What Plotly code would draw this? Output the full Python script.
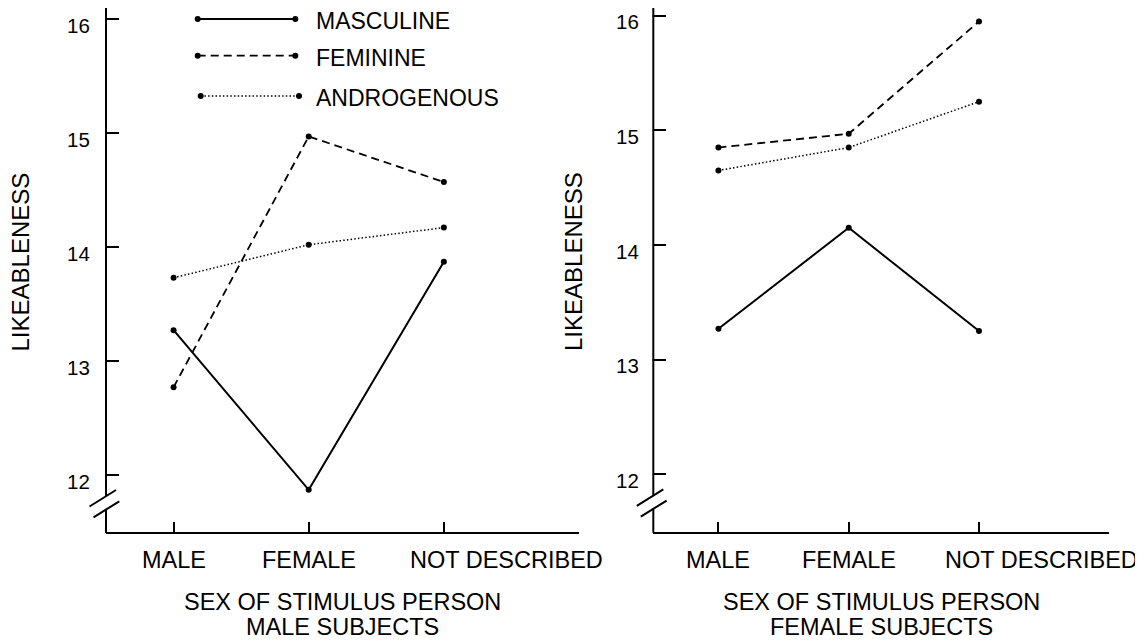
import plotly.graph_objects as go

# ---------------- data ----------------
categories = ["MALE", "FEMALE", "NOT DESCRIBED"]
series_names = ["MASCULINE", "FEMININE", "ANDROGENOUS"]

male_masculine = [13.27, 11.87, 13.87]
male_feminine = [12.77, 14.97, 14.57]
male_androgenous = [13.73, 14.02, 14.17]

female_masculine = [13.27, 14.15, 13.25]
female_feminine = [14.85, 14.97, 15.95]
female_androgenous = [14.65, 14.85, 15.25]

y_ticks = [12, 13, 14, 15, 16]
x_title = "SEX OF STIMULUS PERSON"
panel_subtitles = ["MALE SUBJECTS", "FEMALE SUBJECTS"]
y_title = "LIKEABLENESS"

# ---------------- geometry / style ----------------
PAGE_W, PAGE_H = 1143, 640
OFF = 8  # default body margin of the html page
W, H = PAGE_W - OFF, PAGE_H - OFF
YMIN, YMAX = 11.5, 16.1
FONT = "Liberation Sans, Arial, Helvetica, sans-serif"
BLACK = "#000000"

panels = [
    dict(x0=106.0, x1=579.0, y12=475.0, y16=19.0, ytitle_x=20.5, tick_gap=14),
    dict(x0=653.3, x1=1109.3, y12=474.3, y16=15.7, ytitle_x=574.0, tick_gap=12),
]
for p in panels:
    ppu = (p["y12"] - p["y16"]) / 4.0
    p["ppu"] = ppu
    p["ybot"] = p["y12"] + (12 - YMIN) * ppu
    ytop = max(p["y16"] - (YMAX - 16) * ppu, OFF + 0.01)
    p["ytop"] = ytop
    p["ymax"] = 16 + (p["y16"] - ytop) / ppu

styles = {
    "MASCULINE": dict(dash="solid", width=2.0),
    "FEMININE": dict(dash="8px,5px", width=1.8),
    "ANDROGENOUS": dict(dash="1.5px,2.2px", width=1.5),
}


def px(x):
    return (x - OFF) / W


def py(y):
    return min(1.0, max(0.0, 1 - (y - OFF) / H))


fig = go.Figure()

panel_data = [
    [male_masculine, male_feminine, male_androgenous],
    [female_masculine, female_feminine, female_androgenous],
]
xs = list(range(len(categories)))

for i, (p, data) in enumerate(zip(panels, panel_data)):
    ax = "" if i == 0 else str(i + 1)
    for name, vals in zip(series_names, data):
        st = styles[name]
        fig.add_trace(go.Scatter(
            x=xs, y=vals, mode="lines+markers", name=name,
            xaxis="x" + ax, yaxis="y" + ax, showlegend=False,
            line=dict(color=BLACK, width=st["width"], dash=st["dash"]),
            marker=dict(color=BLACK, size=6),
            hoverinfo="skip", cliponaxis=False,
        ))

    fig.layout["xaxis" + ax] = dict(
        domain=[px(p["x0"]), px(p["x1"])], range=[-0.5, 3.0],
        tickvals=xs, ticks="inside", ticklen=10, tickwidth=2, tickcolor=BLACK,
        showticklabels=False, showline=True, linewidth=2, linecolor=BLACK,
        showgrid=False, zeroline=False, anchor="y" + ax, fixedrange=True,
    )
    fig.layout["yaxis" + ax] = dict(
        domain=[py(p["ybot"]), py(p["ytop"])], range=[YMIN, p["ymax"]],
        tickvals=y_ticks, ticks="inside", ticklen=13, tickwidth=2, tickcolor=BLACK,
        showticklabels=False, showline=False, showgrid=False, zeroline=False,
        anchor="x" + ax, fixedrange=True,
    )

    # y axis line with break
    x0 = p["x0"]
    y12 = p["y12"]
    gap_top, gap_bot = y12 + 21, y12 + 34.5
    for (ya, yb) in [(p["ytop"], gap_top), (gap_bot, p["ybot"] + 1)]:
        fig.add_shape(type="line", xref="paper", yref="paper",
                      x0=px(x0), x1=px(x0), y0=py(ya), y1=py(yb),
                      line=dict(color=BLACK, width=2))
    for (ax0, ay0, ax1, ay1) in [(-16.5, 31.5, 10, 15), (-12.5, 42.3, 13.3, 26.3)]:
        fig.add_shape(type="line", xref="paper", yref="paper",
                      x0=px(x0 + ax0), y0=py(y12 + ay0),
                      x1=px(x0 + ax1), y1=py(y12 + ay1),
                      line=dict(color=BLACK, width=2))

    # y tick labels
    for t in y_ticks:
        fig.add_annotation(x=px(x0), xref="paper", y=t, yref="y" + ax,
                           text=str(t), showarrow=False, xanchor="right",
                           yanchor="middle", xshift=-p["tick_gap"], yshift=-6,
                           font=dict(family=FONT, size=20.5, color=BLACK))
    # x category labels
    for k, (xi, c) in enumerate(zip(xs, categories)):
        last = k == len(categories) - 1
        fig.add_annotation(x=xi, xref="x" + ax, y=py(560), yref="paper",
                           text=c, showarrow=False,
                           xanchor="left" if last else "center",
                           xshift=-36 if last else 0,
                           yanchor="middle",
                           font=dict(family=FONT, size=23.5, color=BLACK))
    # x titles
    cx = px((p["x0"] + p["x1"]) / 2)
    for text, yy in [(x_title, 602), (panel_subtitles[i], 627)]:
        fig.add_annotation(x=cx, xref="paper", y=py(yy), yref="paper",
                           text=text, showarrow=False, xanchor="center",
                           yanchor="middle",
                           font=dict(family=FONT, size=23.5, color=BLACK))
    # y title
    fig.add_annotation(x=px(p["ytitle_x"]), xref="paper", y=py(262), yref="paper",
                       text=y_title, showarrow=False, textangle=-90,
                       xanchor="center", yanchor="middle",
                       font=dict(family=FONT, size=24, color=BLACK))

# custom legend (left panel)
legend_rows = [
    ("MASCULINE", 197.7, 295.3, 19.0),
    ("FEMININE", 197.7, 295.3, 55.7),
    ("ANDROGENOUS", 200.7, 299.0, 96.0),
]
for name, lx0, lx1, ly in legend_rows:
    st = styles[name]
    fig.add_shape(type="line", xref="paper", yref="paper",
                  x0=px(lx0), x1=px(lx1), y0=py(ly), y1=py(ly),
                  line=dict(color=BLACK, width=st["width"], dash=st["dash"]))
    for cxp in (lx0, lx1):
        r = 3.0
        fig.add_shape(type="circle", xref="paper", yref="paper",
                      x0=px(cxp - r), x1=px(cxp + r), y0=py(ly - r), y1=py(ly + r),
                      fillcolor=BLACK, line=dict(color=BLACK, width=0))
    fig.add_annotation(x=px(314), xref="paper", y=py(ly + 2), yref="paper",
                       text=name, showarrow=False, xanchor="left", yanchor="middle",
                       font=dict(family=FONT, size=23, color=BLACK))

fig.update_layout(
    width=W, height=H, autosize=False,
    margin=dict(l=0, r=0, t=0, b=0),
    paper_bgcolor="white", plot_bgcolor="white",
    showlegend=False,
)

fig.write_html("out.html", config={"displayModeBar": False})
